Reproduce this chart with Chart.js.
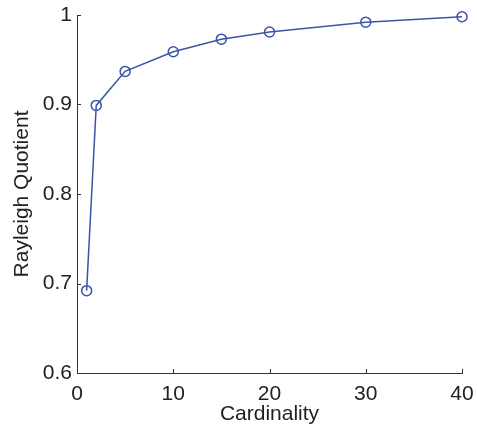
<!DOCTYPE html>
<html>
<head>
<meta charset="utf-8">
<script src="https://cdn.jsdelivr.net/npm/chart.js@4"></script>
<style>
  html, body { margin: 0; padding: 0; background: #fff; }
  #wrap { width: 477px; height: 427px; }
</style>
</head>
<body>
<div id="wrap"><canvas id="myChart"></canvas></div>
<script>
var cardinality = [1, 2, 5, 10, 15, 20, 30, 40];
var quotient = [0.692, 0.899, 0.937, 0.959, 0.973, 0.981, 0.992, 0.998];
var xTicks = [0, 10, 20, 30, 40];
var yTicks = [0.6, 0.7, 0.8, 0.9, 1];

var lineColor = '#3a55a8';
var axisColor = '#333333';
var fontFam = '"Liberation Sans", Helvetica, Arial, sans-serif';

// small inward ticks like the original
var innerTicks = {
  id: 'innerTicks',
  afterDraw: function(chart) {
    var c = chart.ctx, a = chart.chartArea;
    var xs = chart.scales.x, ys = chart.scales.y;
    c.save();
    c.strokeStyle = axisColor;
    c.lineWidth = 1;
    c.beginPath();
    xTicks.forEach(function(v) {
      var px = Math.round(xs.getPixelForValue(v)) + 0.5;
      c.moveTo(px, a.bottom);
      c.lineTo(px, a.bottom - 4);
    });
    yTicks.forEach(function(v) {
      var py = Math.round(ys.getPixelForValue(v)) + 0.5;
      c.moveTo(a.left, py);
      c.lineTo(a.left + 4, py);
    });
    c.stroke();
    c.restore();
  }
};

var data = cardinality.map(function(x, i) { return { x: x, y: quotient[i] }; });

var ctx = document.getElementById('myChart');
var myChart = new Chart(ctx, {
  type: 'line',
  data: {
    datasets: [{
      data: data,
      borderColor: lineColor,
      borderWidth: 1.5,
      pointStyle: 'circle',
      pointRadius: 5,
      pointBorderWidth: 1.5,
      pointBackgroundColor: 'rgba(0,0,0,0)',
      pointBorderColor: lineColor,
      tension: 0,
      fill: false,
      clip: false
    }]
  },
  plugins: [innerTicks],
  options: {
    responsive: true,
    maintainAspectRatio: false,
    animation: false,
    layout: { padding: { top: 15, right: 15, left: 0, bottom: 0 } },
    plugins: { legend: { display: false }, tooltip: { enabled: false } },
    scales: {
      x: {
        type: 'linear',
        min: 0, max: 40,
        afterBuildTicks: function(s) { s.ticks = xTicks.map(function(v) { return { value: v }; }); },
        afterFit: function(s) { s.height = 54; s.paddingRight = 0; s.paddingLeft = 0; },
        grid: { drawOnChartArea: false, drawTicks: false },
        border: { display: true, color: axisColor, width: 1 },
        ticks: { color: '#222', padding: 9, font: { family: fontFam, size: 21 }, maxRotation: 0 },
        title: { display: true, text: 'Cardinality', color: '#222', font: { family: fontFam, size: 21 }, padding: { top: 0, bottom: 0 } }
      },
      y: {
        type: 'linear',
        min: 0.6, max: 1,
        afterBuildTicks: function(s) { s.ticks = yTicks.map(function(v) { return { value: v }; }); },
        afterFit: function(s) { s.width = 77; s.paddingTop = 0; s.paddingBottom = 0; },
        grid: { drawOnChartArea: false, drawTicks: false },
        border: { display: true, color: axisColor, width: 1 },
        ticks: { color: '#222', padding: 5, font: { family: fontFam, size: 21 },
          callback: function(v) { return String(Math.round(v * 10) / 10); } },
        title: { display: true, text: 'Rayleigh Quotient', color: '#222', font: { family: fontFam, size: 21 }, padding: { top: 10, bottom: 0 } }
      }
    }
  }
});
</script>
</body>
</html>
